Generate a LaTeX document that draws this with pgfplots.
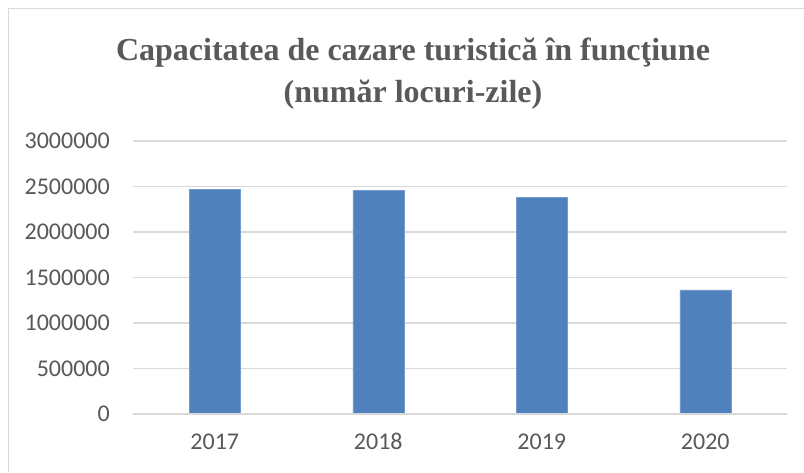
\documentclass[border=0pt]{standalone}
\usepackage{pgfplots}
\pgfplotsset{compat=1.18}
\usepackage{fontspec}
\setmainfont{Carlito}
\newfontfamily\titlefont{Liberation Serif}
\definecolor{barblue}{HTML}{4F81BD}
\definecolor{gridgray}{HTML}{D9D9D9}
\definecolor{txtgray}{HTML}{595959}
\begin{document}
\begin{tikzpicture}[x=1pt,y=1pt]
\path[use as bounding box, fill=white] (0,0) rectangle (804,-472);
\draw[gridgray, line width=1.5pt] (8.5,-472) -- (8.5,-8.5) -- (804,-8.5);
\node[text=txtgray, align=center, font=\titlefont\bfseries\fontsize{32}{42}\selectfont] at (413,-74) {Capacitatea de cazare turistică în funcţiune\\(număr locuri-zile)};
\begin{axis}[
  at={(133pt,-414pt)}, anchor=south west,
  scale only axis, width=654pt, height=273pt,
  xmin=-0.5, xmax=3.5, ymin=0, ymax=3000000,
  xtick={0,1,2,3}, xticklabels={2017,2018,2019,2020},
  ytick={0,500000,1000000,1500000,2000000,2500000,3000000},
  scaled y ticks=false,
  yticklabel={\pgfmathprintnumber[fixed,precision=0,1000 sep={}]{\tick}},
  /pgf/number format/assume math mode=true,
  major tick length=0pt,
  axis line style={draw=none},
  axis x line*=bottom,
  ymajorgrids, grid style={gridgray, line width=1.5pt},
  ticklabel style={font=\fontsize{24}{28}\selectfont, text=txtgray},
  yticklabel style={inner sep=0pt, xshift=-23pt},
  xticklabel style={inner sep=0pt, text height=15pt, text depth=0pt, yshift=-20pt},
  clip=false,
]
\addplot[ybar, bar width=51pt, fill=barblue, draw=barblue!80!white] coordinates {(0,2467000) (1,2456000) (2,2384000) (3,1363000)};
\draw[gridgray, line width=1.5pt] (axis cs:-0.5,0) -- (axis cs:3.5,0);
\end{axis}
\end{tikzpicture}
\end{document}
